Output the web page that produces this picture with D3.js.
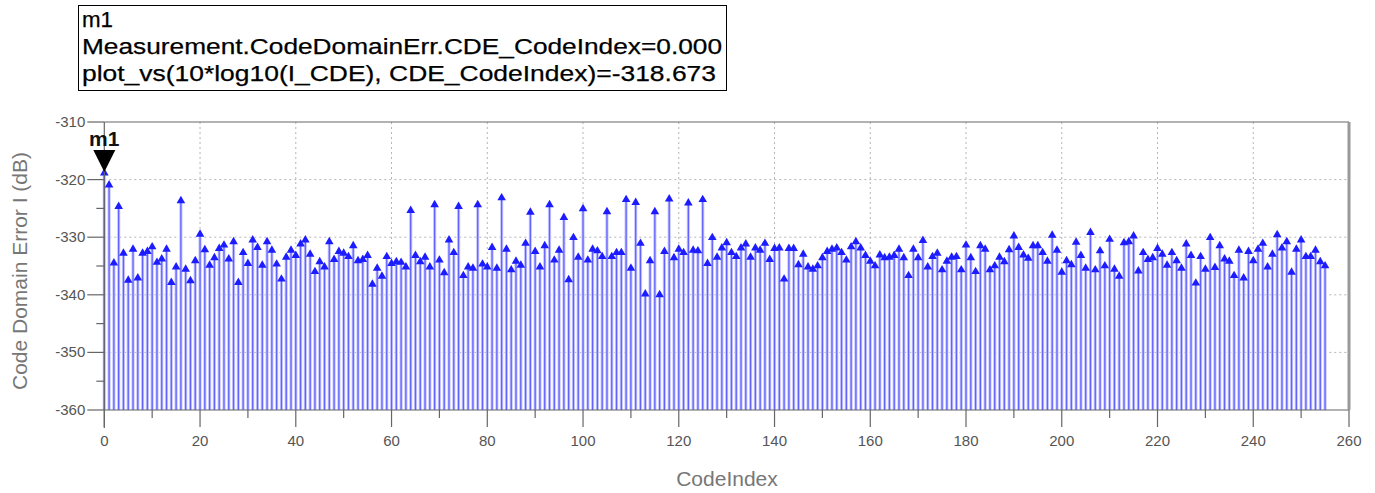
<!DOCTYPE html>
<html>
<head>
<meta charset="utf-8">
<script src="https://cdn.jsdelivr.net/npm/d3@7"></script>
<style>
  html, body { margin: 0; padding: 0; background: #fff; }
  svg { display: block; font-family: "Liberation Sans", Arial, sans-serif; }
</style>
</head>
<body>
<svg id="chart" width="1375" height="493"></svg>
<script>
// Code domain error (I channel) per code index, in dB
const codeIndex = d3.range(0, 256);
const cdeI = [
  -318.673, -320.75, -334.3, -324.5, -332.6, -337.3, -331.9, -336.9, -332.6, -332.3,
  -331.5, -334.2, -333.6, -331.9, -337.7, -335.0, -323.5, -335.4, -337.4, -333.9,
  -329.3, -332.0, -334.7, -333.4, -331.8, -331.2, -333.6, -330.6, -337.7, -332.5,
  -334.4, -330.3, -331.6, -334.7, -330.6, -332.1, -334.5, -337.1, -333.3, -332.1,
  -333.0, -331.0, -330.3, -332.8, -335.8, -334.1, -335.0, -330.6, -333.7, -332.3,
  -332.6, -333.2, -331.3, -333.9, -333.7, -333.0, -338.0, -335.2, -336.6, -333.2,
  -334.4, -334.1, -334.2, -335.0, -325.2, -333.0, -334.1, -333.3, -335.0, -324.2,
  -333.8, -336.0, -330.3, -332.5, -324.5, -336.5, -335.0, -335.2, -324.2, -334.5,
  -335.0, -331.6, -335.2, -323.0, -331.9, -335.5, -334.0, -334.7, -330.9, -325.5,
  -332.3, -335.0, -331.3, -324.2, -333.8, -332.1, -326.4, -337.2, -329.9, -333.3,
  -324.9, -333.8, -331.9, -332.2, -333.2, -325.4, -333.2, -332.5, -332.5, -323.3,
  -335.2, -323.8, -330.9, -339.7, -333.9, -325.4, -339.8, -332.3, -323.2, -333.4,
  -331.9, -332.5, -323.9, -332.1, -332.2, -323.3, -334.4, -329.9, -333.3, -331.7,
  -330.8, -332.5, -333.2, -331.7, -331.0, -333.3, -331.7, -332.1, -330.9, -333.7,
  -331.8, -331.7, -337.1, -331.8, -331.8, -334.6, -332.8, -335.0, -335.4, -334.8,
  -333.4, -332.3, -331.9, -331.7, -332.5, -333.8, -331.5, -330.6, -331.7, -333.0,
  -334.0, -334.8, -332.9, -333.4, -333.3, -333.0, -331.9, -333.4, -336.5, -331.9,
  -333.4, -330.4, -335.0, -333.2, -332.6, -335.5, -334.0, -333.3, -333.2, -335.5,
  -331.2, -333.4, -335.8, -331.3, -331.9, -335.5, -334.8, -333.3, -334.1, -332.0,
  -329.6, -331.6, -332.9, -333.5, -331.3, -331.3, -332.5, -334.0, -329.5, -332.1,
  -335.9, -333.9, -334.6, -330.7, -333.0, -335.2, -329.0, -335.5, -332.2, -334.8,
  -330.2, -335.4, -336.6, -330.8, -330.6, -329.6, -335.7, -332.5, -333.7, -333.4,
  -331.8, -332.8, -334.7, -332.5, -333.9, -335.2, -331.0, -333.0, -337.8, -333.2,
  -335.4, -329.9, -335.1, -331.3, -333.6, -334.0, -336.5, -332.1, -336.9, -332.3,
  -333.9, -331.9, -330.9, -335.0, -332.8, -329.4, -331.7, -330.6, -335.9, -331.9,
  -330.3, -333.2, -333.2, -332.1, -334.1, -334.8
];

const xTicks = d3.range(0, 261, 20);
const yTicks = d3.range(-360, -309, 10);
const yMinorTicks = d3.range(-355, -310, 10);
const xMinorTicks = d3.range(10, 260, 20);

const markerName = "m1";
const markerIndex = 0;
const markerLines = [
  "m1",
  "Measurement.CodeDomainErr.CDE_CodeIndex=0.000",
  "plot_vs(10*log10(I_CDE), CDE_CodeIndex)=-318.673"
];
// rendered widths of the readout lines
const markerLineWidths = [31, 640, 634];

const svg = d3.select("#chart");

const x = d3.scaleLinear().domain([0, 260]).range([104.3, 1349]);
const y = d3.scaleLinear().domain([-360, -310]).range([410, 122]);

const gridColor = "#b4b4b4";
const axisColor = "#666";
const labelColor = "#555";

// dotted grid
const grid = svg.append("g");
grid.selectAll("line.gy").data(yTicks.filter(v => v > -360 && v < -310)).join("line")
  .attr("x1", x(0)).attr("x2", x(260))
  .attr("y1", d => y(d)).attr("y2", d => y(d))
  .attr("stroke", gridColor).attr("stroke-width", 1).attr("stroke-dasharray", "2,3");
grid.selectAll("line.gx").data(xTicks.filter(v => v > 0 && v < 260)).join("line")
  .attr("x1", d => x(d)).attr("x2", d => x(d))
  .attr("y1", y(-310)).attr("y2", y(-360))
  .attr("stroke", gridColor).attr("stroke-width", 1).attr("stroke-dasharray", "2,3");

// stems with triangle markers
const stems = svg.append("g");
const data = codeIndex.map((c, i) => ({ c, v: cdeI[i] }));
stems.selectAll("line.halo").data(data).join("line")
  .attr("x1", d => x(d.c)).attr("x2", d => x(d.c))
  .attr("y1", y(-360)).attr("y2", d => y(d.v))
  .attr("stroke", "#c8c8ff").attr("stroke-width", 3.2);
stems.selectAll("line.stem").data(data).join("line")
  .attr("x1", d => x(d.c)).attr("x2", d => x(d.c))
  .attr("y1", y(-360)).attr("y2", d => y(d.v))
  .attr("stroke", "#6262ff").attr("stroke-width", 1.3);
const tri = d3.symbol().type(d3.symbolTriangle).size(32);
stems.selectAll("path.mk").data(data).join("path")
  .attr("d", tri)
  .attr("transform", d => `translate(${x(d.c)},${y(d.v) + 1})`)
  .attr("fill", "#1c1cff");

// frame and axes
const frame = svg.append("g");
frame.append("line").attr("x1", x(0)).attr("x2", x(260)).attr("y1", y(-310)).attr("y2", y(-310))
  .attr("stroke", axisColor).attr("stroke-width", 1);
frame.append("line").attr("x1", x(0)).attr("x2", x(260)).attr("y1", y(-360)).attr("y2", y(-360))
  .attr("stroke", axisColor).attr("stroke-width", 1);
frame.append("line").attr("x1", x(0)).attr("x2", x(0)).attr("y1", y(-310)).attr("y2", y(-360) + 18)
  .attr("stroke", axisColor).attr("stroke-width", 1.2);
frame.append("line").attr("x1", x(260)).attr("x2", x(260)).attr("y1", y(-310)).attr("y2", y(-360))
  .attr("stroke", "#999").attr("stroke-width", 3);

// y ticks
frame.selectAll("line.yt").data(yTicks).join("line")
  .attr("x1", x(0) - 17).attr("x2", x(0)).attr("y1", d => y(d)).attr("y2", d => y(d))
  .attr("stroke", axisColor).attr("stroke-width", 1.2);
frame.selectAll("line.ym").data(yMinorTicks).join("line")
  .attr("x1", x(0) - 8).attr("x2", x(0)).attr("y1", d => y(d)).attr("y2", d => y(d))
  .attr("stroke", axisColor).attr("stroke-width", 1.2);
frame.selectAll("text.yl").data(yTicks).join("text")
  .attr("x", x(0) - 19).attr("y", d => y(d) + 5)
  .attr("text-anchor", "end").attr("font-size", 15).attr("fill", labelColor)
  .text(d => d);

// x ticks
frame.selectAll("line.xt").data(xTicks).join("line")
  .attr("x1", d => x(d)).attr("x2", d => x(d)).attr("y1", y(-360)).attr("y2", y(-360) + 17)
  .attr("stroke", axisColor).attr("stroke-width", 1.2);
frame.selectAll("line.xm").data(xMinorTicks).join("line")
  .attr("x1", d => x(d)).attr("x2", d => x(d)).attr("y1", y(-360)).attr("y2", y(-360) + 8)
  .attr("stroke", axisColor).attr("stroke-width", 1.2);
frame.selectAll("text.xl").data(xTicks).join("text")
  .attr("x", d => x(d)).attr("y", y(-360) + 36)
  .attr("text-anchor", "middle").attr("font-size", 15).attr("fill", labelColor)
  .text(d => d);

// axis titles
svg.append("text").attr("x", 727).attr("y", 486)
  .attr("text-anchor", "middle").attr("font-size", 21).attr("fill", "#777")
  .text("CodeIndex");
svg.append("text")
  .attr("transform", `translate(27,${(y(-310) + y(-360)) / 2 + 5}) rotate(-90)`)
  .attr("text-anchor", "middle").attr("font-size", 21).attr("fill", "#777")
  .text("Code Domain Error I (dB)");

// marker m1
const mx = x(codeIndex[markerIndex]);
const my = y(cdeI[markerIndex]);
svg.append("path")
  .attr("d", `M${mx - 11},${my - 22} L${mx + 11},${my - 22} L${mx},${my} Z`)
  .attr("fill", "#000");
svg.append("text").attr("x", mx).attr("y", my - 26)
  .attr("text-anchor", "middle").attr("font-size", 21).attr("font-weight", "bold")
  .attr("fill", "#111").text(markerName);

// marker readout box
const box = svg.append("g");
box.append("rect").attr("x", 78.5).attr("y", 5.5).attr("width", 648).attr("height", 85)
  .attr("fill", "#fff").attr("stroke", "#000").attr("stroke-width", 1);
box.selectAll("text").data(markerLines).join("text")
  .attr("x", 82).attr("y", (d, i) => 27 + i * 27)
  .attr("font-size", 22).attr("fill", "#000")
  .attr("stroke", "#000").attr("stroke-width", 0.25)
  .attr("textLength", (d, i) => markerLineWidths[i])
  .attr("lengthAdjust", "spacingAndGlyphs")
  .text(d => d);
</script>
</body>
</html>
